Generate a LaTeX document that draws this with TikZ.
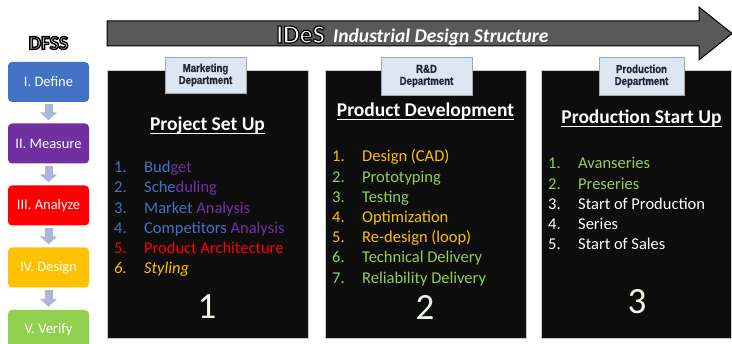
\documentclass[tikz,border=0pt]{standalone}
\usepackage{fontspec}
\setmainfont{Carlito}
\newfontfamily\narrowfont[FakeStretch=0.84, BoldFont={Liberation Sans Bold}, BoldFeatures={FakeStretch=0.84, FakeBold=0.8}]{Liberation Sans}
\usetikzlibrary{arrows.meta,calc,shadows}
\definecolor{cblue}{HTML}{4472C4}
\definecolor{cpurple}{HTML}{7030A0}
\definecolor{cred}{HTML}{FF0000}
\definecolor{cyellow}{HTML}{FFC000}
\definecolor{cgreen}{HTML}{92D050}
\definecolor{carrow}{HTML}{A9B8D9}
\definecolor{cgrey}{HTML}{595959}
\definecolor{clabel}{HTML}{DCE6F2}
\definecolor{clabtxt}{HTML}{1C2638}
\definecolor{cpanel}{HTML}{0D0D0D}
\definecolor{cbig}{HTML}{EEF7E8}
\newcommand\itm[2]{\makebox[30pt][l]{#1}#2}
\newcommand\outl[2]{\special{pdf:literal direct 2 Tr #1 w 0 0 0 RG}#2\special{pdf:literal direct 0 Tr 0.3985 w}}
\begin{document}
\begin{tikzpicture}[x=1pt,y=-1pt,
  dfssbox/.style={rounded corners=4pt, minimum width=81pt, minimum height=40pt, inner sep=0pt, text=white, font=\fontsize{14.5}{16}\selectfont},
  downarr/.style={draw=carrow, line width=8pt, -{Triangle[width=17pt,length=8pt]}, shorten <=2pt, shorten >=3pt},
  panel/.style={fill=cpanel, draw=gray!40, line width=0.6pt, minimum height=268pt, inner sep=0pt},
  deptbox/.style={fill=clabel, draw=gray!70, line width=0.8pt, drop shadow={shadow xshift=0.8pt, shadow yshift=-1.2pt, fill=gray!70}, inner sep=0pt, align=center, text=clabtxt, font=\narrowfont\bfseries\fontsize{11.5}{12}\selectfont},
  ttl/.style={anchor=base, inner sep=0pt, text=white, font=\bfseries\fontsize{19.5}{22}\selectfont},
  uline/.style={draw=white, line width=1.2pt},
  item/.style={anchor=base west, inner sep=0pt, text=white, font=\fontsize{16.5}{20}\selectfont},
  bignum/.style={anchor=base, inner sep=0pt, text=cbig, font=\fontsize{37}{40}\selectfont}
]
\useasboundingbox (0,0) rectangle (732,344);
\fill[white] (0,0) rectangle (732,344);

% big arrow
\filldraw[fill=cgrey, draw=black, line width=1pt, line join=miter]
  (107,21) -- (699,21) -- (699,7) -- (732,33.5) -- (699,60) -- (699,46) -- (107,46) -- cycle;
\node[anchor=base west, inner sep=0pt, text=white, font=\bfseries\fontsize{26}{30}\selectfont] (ides) at (276,43) {\outl{1.2}{IDeS}};
\node[anchor=base west, inner sep=0pt, text=white, font=\bfseries\itshape\fontsize{19.5}{22}\selectfont] (idest) at (333,43) {Industrial Design Structure};

% DFSS column
\node[inner sep=0pt, text=white!88!black, font=\bfseries\fontsize{19.5}{21}\selectfont] (dfss) at (48.5,43) {\outl{1.4}{DFSS}};
\node[dfssbox, fill=cblue] (b1) at (48.5,82) {I. Define};
\node[dfssbox, fill=cpurple] (b2) at (48.5,143.5) {II. Measure};
\node[dfssbox, fill=cred] (b3) at (48.5,205.5) {III. Analyze};
\node[dfssbox, fill=cyellow] (b4) at (48.5,267.5) {IV. Design};
\node[dfssbox, fill=cgreen] (b5) at (48.5,330) {V. Verify};
\draw[downarr] (b1.south) -- (b2.north);
\draw[downarr] (b2.south) -- (b3.north);
\draw[downarr] (b3.south) -- (b4.north);
\draw[downarr] (b4.south) -- (b5.north);

% panels
\node[panel, minimum width=201pt] (pan1) at (207.5,204) {};
\node[panel, minimum width=201pt] (pan2) at (425.5,204) {};
\node[panel, minimum width=190pt] (pan3) at (636,204) {};

% department labels
\node[deptbox, minimum width=81pt, minimum height=36pt] (d1) at (205.5,75) {Marketing\\Department};
\node[deptbox, minimum width=91pt, minimum height=38pt] (d2) at (426.5,76) {R\&D\\Department};
\node[deptbox, minimum width=85pt, minimum height=38pt] (d3) at (641.5,76) {Production\\Department};

% titles
\node[ttl] (t1) at (207.5,131) {Project Set Up};
\node[ttl] (t2) at (425.5,117) {Product Development};
\node[ttl] (t3) at (641.5,124) {Production Start Up};
\draw[uline] ($(t1.base west)+(0,2.8)$) -- ($(t1.base east)+(0,2.8)$);
\draw[uline] ($(t2.base west)+(0,2.8)$) -- ($(t2.base east)+(0,2.8)$);
\draw[uline] ($(t3.base west)+(0,2.8)$) -- ($(t3.base east)+(0,2.8)$);

% panel 1 list
\node[item] (a1) at (114,172.5) {\itm{\textcolor{cblue}{1.}}{\textcolor{cblue}{Bud}\textcolor{cpurple}{get}}};
\node[item] (a2) at (114,192.8) {\itm{\textcolor{cblue}{2.}}{\textcolor{cblue}{Sche}\textcolor{cpurple}{duling}}};
\node[item] (a3) at (114,213.1) {\itm{\textcolor{cblue}{3.}}{\textcolor{cblue}{Market} \textcolor{cpurple}{Analysis}}};
\node[item] (a4) at (114,233.4) {\itm{\textcolor{cblue}{4.}}{\textcolor{cblue}{Competitors} \textcolor{cpurple}{Analysis}}};
\node[item, text=cred] (a5) at (114,253.7) {\itm{5.}{Product Architecture}};
\node[item, text=cyellow] (a6) at (114,274) {\itshape\itm{6.}{Styling}};

% panel 2 list
\node[item, text=cyellow] (c1) at (332,162) {\itm{1.}{Design (CAD)}};
\node[item, text=cgreen] (c2) at (332,182.2) {\itm{2.}{Prototyping}};
\node[item, text=cgreen] (c3) at (332,202.4) {\itm{3.}{Testing}};
\node[item, text=cyellow] (c4) at (332,222.6) {\itm{4.}{Optimization}};
\node[item, text=cyellow] (c5) at (332,242.8) {\itm{5.}{Re-design (loop)}};
\node[item, text=cgreen] (c6) at (332,263) {\itm{6.}{Technical Delivery}};
\node[item, text=cgreen] (c7) at (332,283.2) {\itm{7.}{Reliability Delivery}};

% panel 3 list
\node[item, text=cgreen] (e1) at (548,169) {\itm{1.}{Avanseries}};
\node[item, text=cgreen] (e2) at (548,189.2) {\itm{2.}{Preseries}};
\node[item] (e3) at (548,209.4) {\itm{3.}{Start of Production}};
\node[item] (e4) at (548,229.6) {\itm{4.}{Series}};
\node[item] (e5) at (548,249.8) {\itm{5.}{Start of Sales}};

% big numbers
\node[bignum] (n1) at (207,318.5) {1};
\node[bignum] (n2) at (425,319.5) {2};
\node[bignum] (n3) at (637,313.5) {3};
\end{tikzpicture}
\end{document}
